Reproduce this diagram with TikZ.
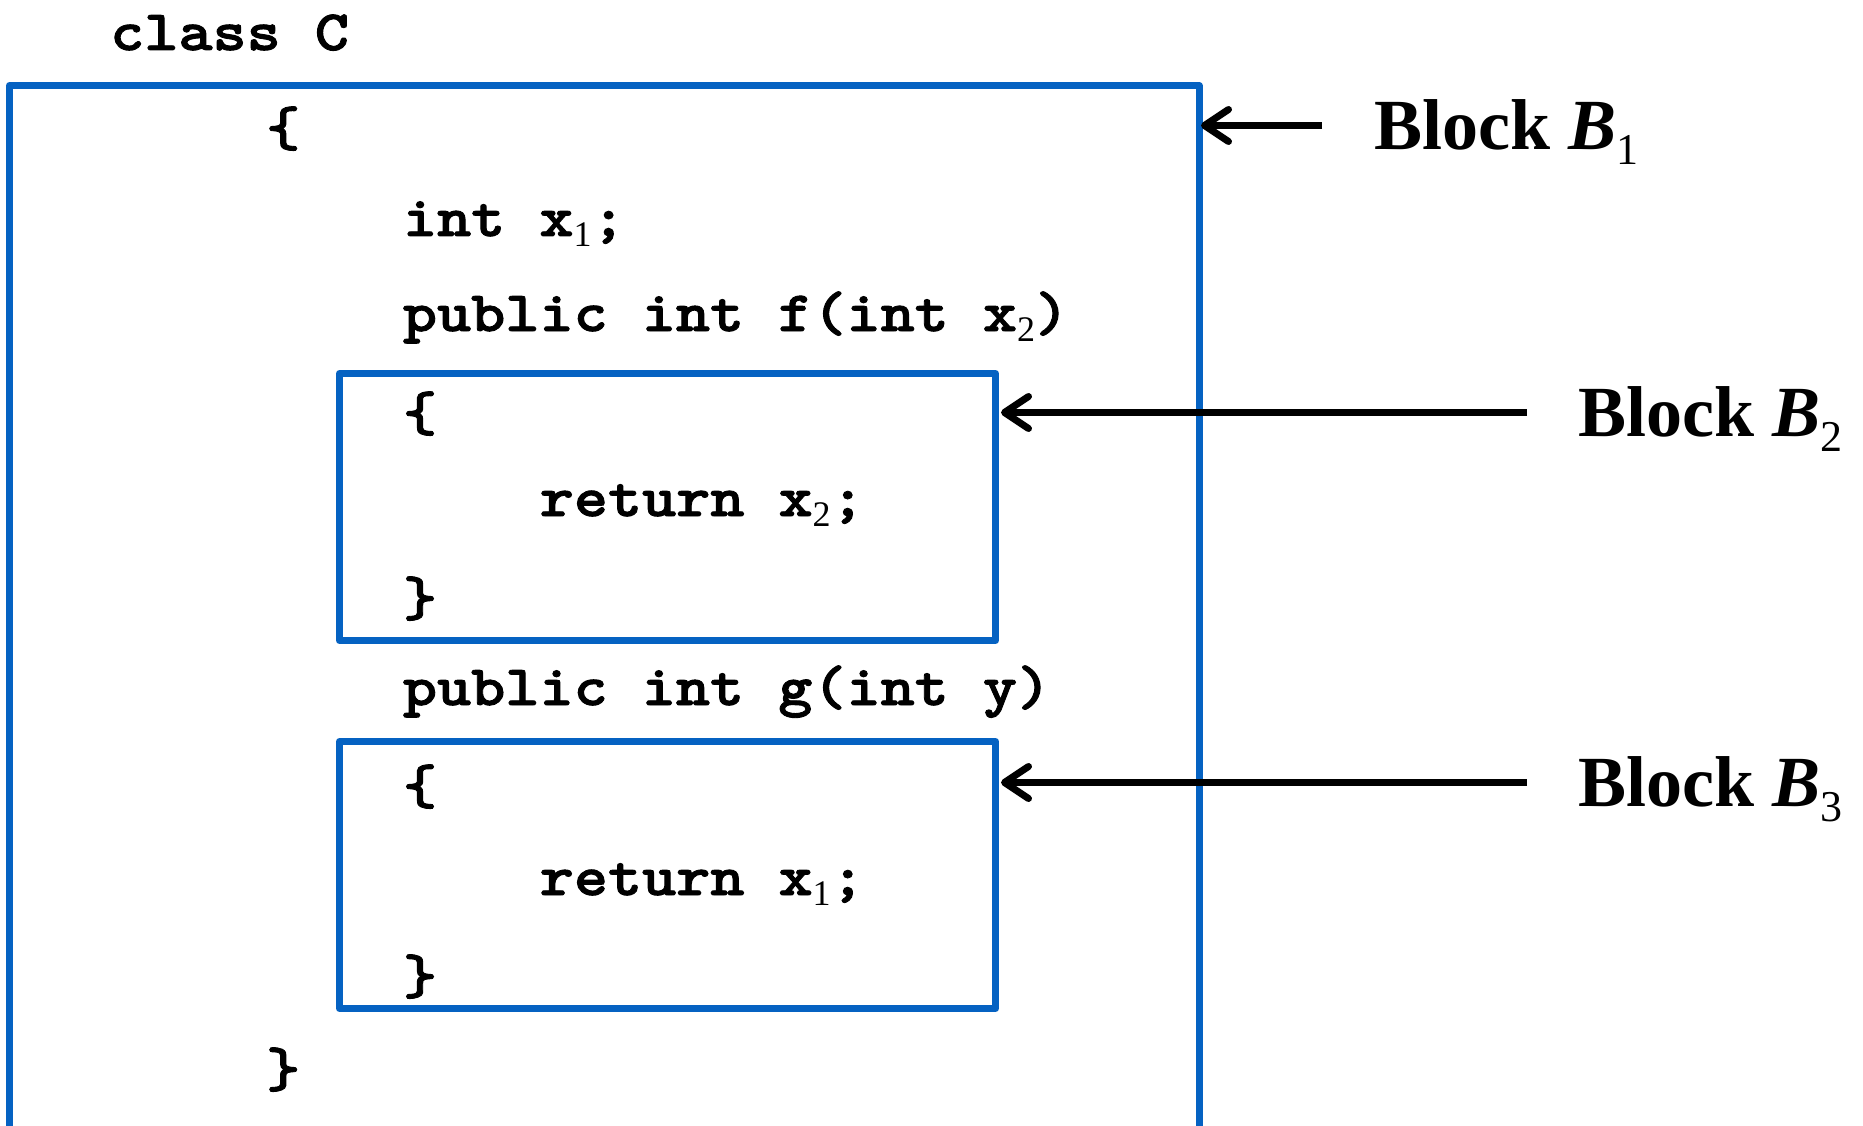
\documentclass[tikz,border=0pt]{standalone}
\usepackage{fontspec}
\setmainfont{Liberation Serif}
% heavy typewriter face for the code, widened to a 34.2pt column pitch at 57pt
\newfontfamily\codefont{lmmonolt10-bold.otf}[FakeBold=1.6, FakeStretch=1.14]
\usetikzlibrary{arrows.meta}
\definecolor{boxblue}{HTML}{0562C2}
% subscripts in the code and in the block labels
\newcommand\codesub[1]{\raisebox{-10pt}{\fontsize{36}{36}\selectfont\rmfamily\mdseries #1}}
\newcommand\labsub[1]{\raisebox{-15pt}{\fontsize{44}{44}\selectfont\rmfamily\mdseries\upshape #1}}
\tikzset{
  code/.style={anchor=base west, inner sep=0pt, font=\fontsize{57}{57}\selectfont\codefont},
  lab/.style={anchor=base west, inner sep=0pt, font=\fontsize{72}{72}\selectfont\bfseries},
  blk/.style={draw=boxblue, line width=7pt, line join=round},
  ptr/.style={line width=7pt, -{Straight Barb[length=24pt,width=32pt,round]}}
}
\begin{document}
\begin{tikzpicture}[x=1pt,y=-1pt]
\useasboundingbox (0,0) rectangle (1863,1126);

% class header
\node[code] (cls) at (110,50) {class C};

% block B1: open at the bottom
\coordinate (b1nw) at (9.5,85.5);
\coordinate (b1ne) at (1199,85.5);
\draw[blk] (b1nw |- 0,1126) -- (b1nw) -- (b1ne) -- (b1ne |- 0,1126);

% blocks B2 and B3
\node[blk, inner sep=0pt, minimum width=656pt, minimum height=267pt, anchor=north west] (b2) at (336,370) {};
\node[blk, inner sep=0pt, minimum width=656pt, minimum height=267pt, anchor=north west] (b3) at (336,738) {};

% code lines (column 0 at 266pt, 34.2pt per column)
\node[code] (ob) at (266,146) {\{};
\node[code] (l1) at (402.8,236) {int x\codesub{1};};
\node[code] (l2) at (402.8,331) {public int f(int x\codesub{2})};
\node[code] (fo) at (402.8,431) {\{};
\node[code] (l3) at (539.6,516) {return x\codesub{2};};
\node[code] (fc) at (402.8,616) {\}};
\node[code] (l4) at (402.8,705) {public int g(int y)};
\node[code] (go) at (402.8,804) {\{};
\node[code] (l5) at (539.6,895) {return x\codesub{1};};
\node[code] (gc) at (402.8,994) {\}};
\node[code] (cb) at (266,1087) {\}};

% labels
\node[lab] (lab1) at (1374,150) {Block \textit{B}\labsub{1}};
\node[lab] (lab2) at (1578,436) {Block \textit{B}\labsub{2}};
\node[lab] (lab3) at (1578,806) {Block \textit{B}\labsub{3}};

% pointers
\coordinate (s1) at (1322,125.5);
\coordinate (s2) at (1527,412.5);
\coordinate (s3) at (1527,782.5);
\draw[ptr] (s1) -- ([xshift=2pt]b1ne |- s1);
\draw[ptr] (s2) -- ([xshift=2pt]b2.east |- s2);
\draw[ptr] (s3) -- ([xshift=2pt]b3.east |- s3);
\end{tikzpicture}
\end{document}
